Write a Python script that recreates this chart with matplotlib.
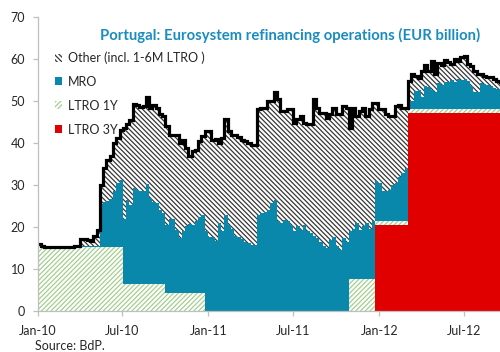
import numpy as np
import pandas as pd
import matplotlib
matplotlib.use("Agg")
import matplotlib.pyplot as plt
import matplotlib.dates as mdates
from matplotlib.patches import Patch

plt.rcParams["font.family"] = ["Lato", "DejaVu Sans"]
plt.rcParams["hatch.linewidth"] = 0.9

# Weekly observations, EUR billion
weeks = pd.date_range("2010-01-01", periods=142, freq="7D")

total = [
    16.1, 15.6, 15.3, 15.3, 15.3, 15.3, 15.3, 15.3, 15.3, 15.4,
    15.4, 15.6, 15.6, 17.1, 17.1, 17.0, 16.8, 18.0, 19.4, 30.0,
    34.0, 36.0, 37.0, 40.0, 41.2, 43.0, 43.5, 44.5, 45.5, 49.2,
    49.0, 48.5, 48.8, 51.0, 48.2, 49.0, 48.4, 46.8, 46.4, 44.0,
    42.0, 42.0, 42.0, 40.0, 40.8, 38.9, 36.9, 38.0, 38.4, 40.4,
    41.6, 42.8, 42.8, 40.8, 41.0, 40.0, 41.2, 45.6, 42.8, 42.0,
    41.8, 41.5, 40.8, 40.5, 40.0, 39.6, 39.6, 48.0, 48.4, 48.4,
    49.9, 50.0, 52.0, 50.4, 47.5, 47.5, 48.0, 48.0, 44.8, 45.6,
    46.4, 44.8, 44.4, 44.4, 50.4, 48.4, 47.2, 47.2, 46.0, 46.8,
    48.4, 46.8, 46.8, 48.8, 48.4, 43.5, 48.4, 46.5, 47.5, 48.4,
    46.4, 48.0, 49.6, 49.6, 48.0, 48.0, 46.8, 46.3, 46.3, 48.7,
    49.0, 48.4, 48.4, 54.7, 56.5, 56.0, 55.5, 57.0, 58.5, 57.0,
    59.5, 56.5, 59.0, 58.5, 59.8, 59.2, 58.7, 59.9, 59.5, 60.5,
    60.7, 58.7, 58.3, 57.0, 56.5, 56.3, 55.9, 55.6, 55.6, 55.1,
    54.8, 54.5,
]

ltro_3y = [0.0] * 103 + [20.5] * 10 + [47.2] * 29
ltro_1y = [15.3] * 26 + [6.5] * 13 + [4.4] * 12 + [0.0] * 44 + [7.6] * 8 + [0.9] * 39

mro = (
    [0.0] * 13 + [0.2] * 4 + [0.3] * 2
    + [10.2, 10.7, 11.0, 11.5, 13.2, 15.2, 16.0]
    + [15.5, 20.0, 18.9, 22.9, 22.4, 22.0, 22.0, 23.8, 20.5, 19.5, 19.3, 17.7, 16.9]
    + [16.2, 17.6, 17.6, 15.0, 13.1, 14.6, 16.0, 16.4, 16.1, 17.1, 18.0, 18.4]
    + [19.0, 17.6, 17.8, 16.8, 21.0, 19.0, 23.0, 20.5, 19.6, 18.0,
       17.6, 17.2, 16.6, 16.2, 15.8, 15.8, 23.0, 23.4, 23.6, 24.2,
       25.8, 26.5, 21.4, 21.0, 21.8, 21.4, 20.6, 19.0, 20.2, 19.4,
       20.6, 19.0, 18.6, 18.0, 17.4, 16.6, 15.6, 15.0, 17.0, 17.6,
       15.5, 14.6, 17.5, 16.4]
    + [11.6, 12.0, 13.4, 11.8, 12.8, 13.4, 12.0, 13.8]
    + [9.5, 9.1, 7.1, 7.3, 7.5, 8.6, 9.2, 10.6, 11.4, 12.6]
    + [1.9, 1.9, 4.3, 4.6, 2.9, 5.4, 5.1, 4.4, 3.9, 6.1,
       5.7, 6.5, 6.4, 6.9, 6.4, 7.0, 6.9, 7.2, 6.6, 5.4,
       4.1, 3.9, 6.1, 5.9, 5.7, 5.4, 4.9, 4.7, 4.7]
)

series_labels = ["Other (incl. 1-6M LTRO )", "MRO", "LTRO 1Y", "LTRO 3Y"]
y_ticks = [0, 10, 20, 30, 40, 50, 60, 70]

RED = "#E00000"
BLUE = "#0A88AC"
GREEN = "#A3CF8E"
DARK = "#383838"
TITLE_BLUE = "#1A8CC0"
TEXT = "#262626"
AXIS_GRAY = "#BFBFBF"
HATCH_OTHER = "\\" * 7
HATCH_1Y = "/" * 7

# step edges: each weekly value holds until the next observation
edges = weeks.append(pd.DatetimeIndex([weeks[-1] + pd.Timedelta(days=7)]))


def ext(v):
    v = np.asarray(v, dtype=float)
    return np.append(v, v[-1])


l3 = ext(ltro_3y)
l1 = ext(ltro_1y)
mr = ext(mro)
tot = ext(total)

c1 = l3
c2 = c1 + l1
c3 = c2 + mr

fig = plt.figure(figsize=(5.0, 3.52), dpi=100)
ax = fig.add_axes([0.0754, 0.1151, 0.9246, 0.8375])

ax.fill_between(edges, 0, c1, step="post", facecolor=RED, edgecolor=RED, linewidth=0)
ax.fill_between(edges, c1, c2, step="post", facecolor="white", edgecolor=GREEN,
                hatch=HATCH_1Y, linewidth=0)
ax.fill_between(edges, c2, c3, step="post", facecolor=BLUE, edgecolor=BLUE, linewidth=0)
ax.fill_between(edges, c3, tot, step="post", facecolor="white", edgecolor=DARK,
                hatch=HATCH_OTHER, linewidth=0)
ax.step(edges, tot, where="post", color="black", linewidth=2.3, solid_joinstyle="miter")

ax.set_xlim(pd.Timestamp("2010-01-01"), pd.Timestamp("2012-09-15"))
ax.set_ylim(0, 70)
ax.set_yticks(y_ticks)

ax.xaxis.set_major_locator(mdates.MonthLocator(bymonth=[1, 7]))
ax.xaxis.set_major_formatter(mdates.DateFormatter("%b-%y"))

for side in ("top", "right"):
    ax.spines[side].set_visible(False)
for side in ("left", "bottom"):
    ax.spines[side].set_color(AXIS_GRAY)
    ax.spines[side].set_linewidth(0.9)

ax.tick_params(axis="both", colors=AXIS_GRAY, labelcolor=TEXT, labelsize=9,
               length=3.4, width=0.9)
ax.tick_params(axis="y", pad=5.5)
ax.tick_params(axis="x", pad=6)

handles = [
    Patch(facecolor="white", edgecolor=DARK, hatch=HATCH_OTHER, linewidth=0),
    Patch(facecolor=BLUE, edgecolor=BLUE, linewidth=0),
    Patch(facecolor="white", edgecolor=GREEN, hatch=HATCH_1Y, linewidth=0),
    Patch(facecolor=RED, edgecolor=RED, linewidth=0),
]
fig.legend(handles, series_labels, loc="upper left",
           bbox_to_anchor=(0.109, 0.854), frameon=False, fontsize=9,
           handlelength=0.6, handleheight=0.6, handletextpad=0.45,
           labelspacing=0.95, borderaxespad=0, borderpad=0, labelcolor=TEXT)

fig.text(0.581, 0.899, "Portugal: Eurosystem refinancing operations (EUR billion)",
         ha="center", va="center", fontsize=10.7, fontweight="bold", color=TITLE_BLUE)
fig.text(0.07, 0.018, "Source: BdP.", ha="left", va="center", fontsize=9, color=TEXT)

fig.savefig("out.png", dpi=100)
